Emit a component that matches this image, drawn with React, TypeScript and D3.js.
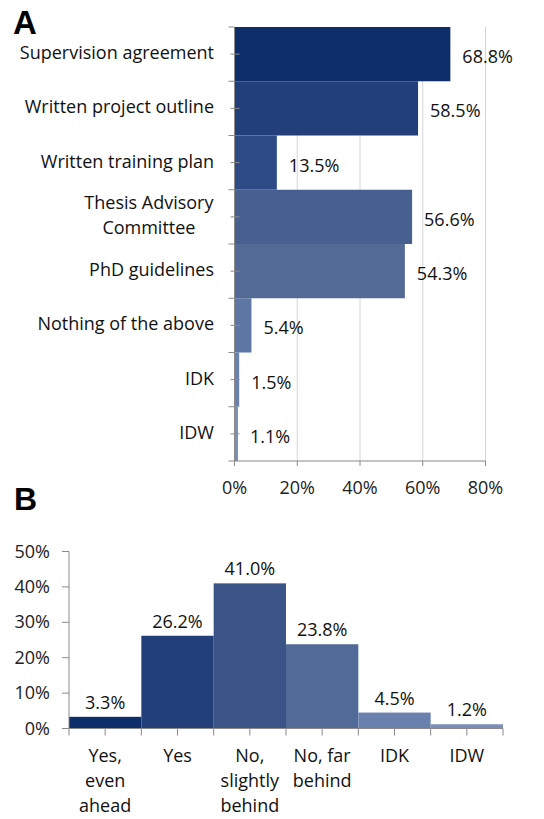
import { useEffect, useRef } from "react"
import * as d3 from "d3"

// panel A: what exists for the PhD
const itemsA = [
  "Supervision agreement",
  "Written project outline",
  "Written training plan",
  "Thesis Advisory|Committee",
  "PhD guidelines",
  "Nothing of the above",
  "IDK",
  "IDW",
]
const valuesA = [68.8, 58.5, 13.5, 56.6, 54.3, 5.4, 1.5, 1.1]
const colorsA = ["#0e2d6b", "#233f7a", "#2f4b86", "#47608f", "#536a97", "#5e76a3", "#6b81ad", "#7a8fb7"]
const ticksA = [0, 20, 40, 60, 80]

// panel B: on schedule?
const itemsB = ["Yes,|even|ahead", "Yes", "No,|slightly|behind", "No, far|behind", "IDK", "IDW"]
const valuesB = [3.3, 26.2, 41.0, 23.8, 4.5, 1.2]
const colorsB = ["#0e2d6b", "#233f7a", "#3b5488", "#526a97", "#6b81ad", "#7a8fb7"]
const ticksB = [0, 10, 20, 30, 40, 50]

const font = "'Open Sans', sans-serif"
const fs = 18
const axisColor = "#8a8a8a"
const gridColor = "#d4d4d4"

function App() {
  const ref = useRef<SVGSVGElement>(null)

  useEffect(() => {
    const svg = d3.select(ref.current)
    svg.selectAll("*").remove()

    // ---------- A ----------
    const gA = svg.append("g")
    const x = d3.scaleLinear().domain([0, 80]).range([234.5, 485.5])
    const y = d3.scaleBand<string>().domain(itemsA).range([27, 461]).padding(0)

    gA.append("text").text("A")
      .attr("x", 13).attr("y", 34)
      .attr("font-family", "'Liberation Sans', Arial, sans-serif")
      .attr("font-weight", "bold").attr("font-size", 33)

    gA.selectAll(".grid").data(ticksA.slice(1)).enter().append("line")
      .attr("x1", (d) => x(d)).attr("x2", (d) => x(d))
      .attr("y1", 27).attr("y2", 461)
      .attr("stroke", gridColor).attr("stroke-width", 1)

    gA.selectAll(".bar").data(valuesA).enter().append("rect")
      .attr("x", x(0))
      .attr("y", (d, i) => y(itemsA[i])!)
      .attr("width", (d) => x(d) - x(0))
      .attr("height", y.bandwidth())
      .attr("fill", (d, i) => colorsA[i])

    // axes
    gA.append("line").attr("x1", x(0)).attr("x2", x(0)).attr("y1", 27).attr("y2", 461)
      .attr("stroke", axisColor)
    gA.append("line").attr("x1", x(0)).attr("x2", x(80)).attr("y1", 461).attr("y2", 461)
      .attr("stroke", axisColor)
    const bounds = itemsA.map((c) => y(c)!).concat([461])
    gA.selectAll(".btick").data(bounds).enter().append("line")
      .attr("x1", x(0) - 6).attr("x2", x(0))
      .attr("y1", (d) => d).attr("y2", (d) => d)
      .attr("stroke", axisColor)
    gA.selectAll(".ctick").data(itemsA).enter().append("line")
      .attr("x1", x(0) - 4).attr("x2", x(0) + 5)
      .attr("y1", (d) => y(d)! + y.bandwidth() / 2).attr("y2", (d) => y(d)! + y.bandwidth() / 2)
      .attr("stroke", axisColor)
    gA.selectAll(".xtick").data(ticksA).enter().append("line")
      .attr("x1", (d) => x(d)).attr("x2", (d) => x(d))
      .attr("y1", 461).attr("y2", 466)
      .attr("stroke", axisColor)
    gA.selectAll(".xlab").data(ticksA).enter().append("text")
      .text((d) => d + "%")
      .attr("x", (d) => x(d)).attr("y", 494)
      .attr("text-anchor", "middle")
      .attr("font-family", font).attr("font-size", fs).attr("fill", "#222")

    // category labels
    itemsA.forEach((c) => {
      const lines = c.split("|")
      const cy = y(c)! + y.bandwidth() / 2
      const t = gA.append("text")
        .attr("font-family", font).attr("font-size", fs).attr("fill", "#111")
      lines.forEach((l, j) => {
        t.append("tspan").text(l).attr("x", 214)
          .attr("y", cy + 5 + (j - (lines.length - 1) / 2) * 25)
      })
      if (lines.length === 1) {
        t.attr("text-anchor", "end")
      } else {
        const w = (t.node() as SVGTextElement).getBBox().width
        t.attr("text-anchor", "middle")
        t.selectAll("tspan").attr("x", 214 - w / 2)
      }
    })

    gA.selectAll(".vlab").data(valuesA).enter().append("text")
      .text((d) => d.toFixed(1) + "%")
      .attr("x", (d) => x(d) + 12)
      .attr("y", (d, i) => y(itemsA[i])! + y.bandwidth() / 2 + 9)
      .attr("font-family", font).attr("font-size", fs).attr("fill", "#111")

    // ---------- B ----------
    const gB = svg.append("g")
    const xb = d3.scaleBand<string>().domain(itemsB).range([69, 503]).padding(0)
    const yb = d3.scaleLinear().domain([0, 50]).range([728.5, 551.5])

    gB.append("text").text("B")
      .attr("x", 14).attr("y", 510)
      .attr("font-family", "'Liberation Sans', Arial, sans-serif")
      .attr("font-weight", "bold").attr("font-size", 32)

    gB.selectAll(".bar").data(valuesB).enter().append("rect")
      .attr("x", (d, i) => xb(itemsB[i])!)
      .attr("y", (d) => yb(d))
      .attr("width", xb.bandwidth())
      .attr("height", (d) => yb(0) - yb(d))
      .attr("fill", (d, i) => colorsB[i])

    gB.append("line").attr("x1", 69).attr("x2", 69).attr("y1", yb(50)).attr("y2", yb(0))
      .attr("stroke", axisColor)
    gB.append("line").attr("x1", 69).attr("x2", 503).attr("y1", yb(0)).attr("y2", yb(0))
      .attr("stroke", axisColor)
    gB.selectAll(".ytick").data(ticksB).enter().append("line")
      .attr("x1", 62).attr("x2", 69)
      .attr("y1", (d) => yb(d)).attr("y2", (d) => yb(d))
      .attr("stroke", axisColor)
    gB.selectAll(".ylab").data(ticksB).enter().append("text")
      .text((d) => d + "%")
      .attr("x", 50).attr("y", (d) => yb(d) + 6)
      .attr("text-anchor", "end")
      .attr("font-family", font).attr("font-size", fs).attr("fill", "#222")

    const xt: number[] = []
    itemsB.forEach((c) => {
      xt.push(xb(c)!, xb(c)! + xb.bandwidth() / 2)
    })
    xt.push(503)
    gB.selectAll(".xtick").data(xt).enter().append("line")
      .attr("x1", (d) => d).attr("x2", (d) => d)
      .attr("y1", yb(0)).attr("y2", yb(0) + 7)
      .attr("stroke", axisColor)

    itemsB.forEach((c) => {
      const cx = xb(c)! + xb.bandwidth() / 2
      const t = gB.append("text")
        .attr("text-anchor", "middle")
        .attr("font-family", font).attr("font-size", fs).attr("fill", "#111")
      c.split("|").forEach((l, j) => {
        t.append("tspan").text(l).attr("x", cx).attr("y", 762 + j * 25)
      })
    })

    gB.selectAll(".vlab").data(valuesB).enter().append("text")
      .text((d) => d.toFixed(1) + "%")
      .attr("x", (d, i) => xb(itemsB[i])! + xb.bandwidth() / 2)
      .attr("y", (d) => yb(d) - 8)
      .attr("text-anchor", "middle")
      .attr("font-family", font).attr("font-size", fs).attr("fill", "#111")
  }, [])

  return (
    <svg
      ref={ref}
      width={544}
      height={819}
      style={{ position: "absolute", left: 0, top: 0, background: "#fff" }}
    ></svg>
  )
}

export default App
